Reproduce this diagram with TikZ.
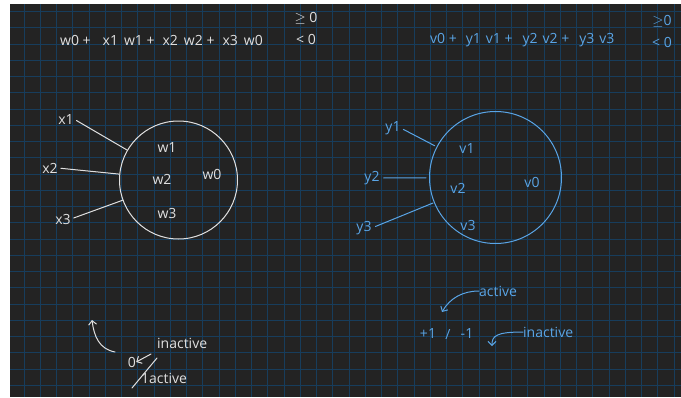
\documentclass[tikz,border=0pt]{standalone}
\usepackage{fontspec}
\setmainfont{Open Sans}
\usepackage{xcolor}
\usepackage{tikz}
\usetikzlibrary{positioning, arrows.meta}

\definecolor{board}{HTML}{232323}
\definecolor{gridblue}{HTML}{173D5C}
\definecolor{chalk}{HTML}{E0E0E0}
\definecolor{pen}{HTML}{5AA5E6}

\begin{document}
\begin{tikzpicture}[x=1pt, y=-1pt,
        ink/.style={line width=1pt, line cap=round},
        hand/.style={font=\fontsize{14}{16}\selectfont, inner sep=0pt},
        neuron/.style={circle, draw, ink, minimum size=#1, inner sep=0pt},
        barb/.style={ink, -{Straight Barb[length=4pt, width=8pt]}}
    ]
        % paper and grid
        \useasboundingbox (0,0) rectangle (681,397);
        \fill[white] (0,0) rectangle (681,397);
        \fill[board] (10,4) rectangle (681,397);
        \foreach \i in {0,...,40}
            \draw[gridblue, line width=0.8pt] (24+16.25*\i,4) -- (24+16.25*\i,397);
        \foreach \j in {0,...,23}
            \draw[gridblue, line width=0.8pt] (10,11.5+16.25*\j) -- (681,11.5+16.25*\j);

        % first neuron, x inputs
        \begin{scope}[draw=chalk, text=chalk]
            \node[hand, anchor=west] (sumL) at (60,40)
                {w0 +\hspace{12pt}x1\hspace{6pt}w1 +\hspace{8pt}x2\hspace{6pt}w2 +\hspace{8pt}x3\hspace{6pt}w0};
            \node[hand] (geL) at (306,18) {$\geq$ 0};
            \node[hand] (ltL) at (306,39) {< 0};

            \node[neuron=118pt] (cellL) at (178.5,180) {};
            \node[hand] (w1) at (167,147) {w1};
            \node[hand] (w2) at (162,179) {w2};
            \node[hand] (w0) at (212,174) {w0};
            \node[hand] (w3) at (167,213) {w3};

            \node[hand] (x1) at (66,119) {x1};
            \node[hand] (x2) at (50,168) {x2};
            \node[hand] (x3) at (63,219) {x3};
            \draw[ink, shorten <=3pt] (x1.east) -- (cellL);
            \draw[ink, shorten <=3pt] (x2.east) -- (cellL);
            \draw[ink, shorten <=3pt] (x3.east) -- (cellL);

            % output 0/1
            \node[hand] (zero) at (132,362) {0};
            \node[hand, anchor=west] (inactL) at (157,343) {inactive};
            \node[hand, anchor=west] (actL) at (141,378) {1active};
            \coordinate (lessL) at (151,354);
            \draw[barb] (lessL) -- (zero.east);
            \draw[ink] (132,388) -- (157,358);
            \coordinate (tailL) at (115,352);
            \coordinate (tipL) at (92,320);
            \draw[barb] (tailL) .. controls (99,349) and (94,336) .. (tipL);
        \end{scope}

        % second neuron, y inputs
        \begin{scope}[draw=pen, text=pen]
            \node[hand, anchor=west] (sumR) at (430,40)
                {v0 +\hspace{9pt}y1\hspace{5pt}v1 +\hspace{10pt}y2\hspace{5pt}v2 +\hspace{10pt}y3\hspace{5pt}v3};
            \node[hand] (geR) at (662,21) {$\geq$0};
            \node[hand] (ltR) at (662,42) {< 0};

            \node[neuron=132pt] (cellR) at (495.5,177.5) {};
            \node[hand] (v1) at (467,148) {v1};
            \node[hand] (v2) at (458,188) {v2};
            \node[hand] (v0) at (532,182) {v0};
            \node[hand] (v3) at (468,225) {v3};

            \node[hand] (y1) at (393,128) {y1};
            \node[hand] (y2) at (372,178) {y2};
            \node[hand] (y3) at (364,228) {y3};
            \draw[ink, shorten <=3pt, shorten >=2pt] (y1.east) -- (cellR);
            \draw[ink, shorten <=4pt, shorten >=3pt] (y2.east) -- (cellR);
            \draw[ink, shorten <=4pt, shorten >=1pt] (y3.east) -- (cellR);

            % output +1/-1
            \node[hand] (plusone) at (428,333) {+1};
            \node[hand] (slashR) at (448,334) {/};
            \node[hand] (minusone) at (467,333) {-1};
            \node[hand, anchor=west] (actR) at (479,291) {active};
            \node[hand, anchor=west] (inactR) at (523,332) {inactive};
            \coordinate (headR) at (442,312);
            \coordinate (hookR) at (492,346);
            \draw[barb] (actR.west) .. controls (463,291) and (450,298) .. (headR);
            \draw[barb] (inactR.west) .. controls (496,332) and (492,336) .. (hookR);
        \end{scope}
    \end{tikzpicture}
\end{document}
